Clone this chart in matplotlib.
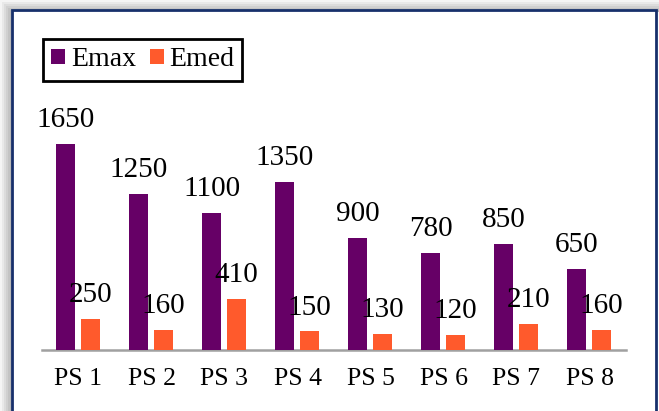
import numpy as np
import matplotlib
matplotlib.use("Agg")
from matplotlib import pyplot as plt
from matplotlib.patches import Rectangle

categories = ["PS 1", "PS 2", "PS 3", "PS 4", "PS 5", "PS 6", "PS 7", "PS 8"]
emax = [1650, 1250, 1100, 1350, 900, 780, 850, 650]
emed = [250, 160, 410, 150, 130, 120, 210, 160]

W, H = 659, 411
purple = "#660066"
orange = "#ff5a2c"

plt.rcParams['font.family'] = ['Liberation Serif', 'DejaVu Serif']

fig = plt.figure(figsize=(W / 100, H / 100), dpi=100)
fig.patch.set_facecolor("white")

def px(x, y, w, h):
    # pixel box measured from the top-left -> figure fraction
    return (x / W, 1 - (y + h) / H, w / W, h / H)

# soft grey shadow on the left and top, darker next to the frame
greys = np.linspace(0.96, 0.72, 6)
for i, g in enumerate(greys):
    fig.patches.append(Rectangle((2 * i / W, 0), 2 / W, 1 - 2 * i / H,
                                 transform=fig.transFigure, color=str(g),
                                 zorder=0, lw=0))
    fig.patches.append(Rectangle((2 * i / W, 1 - (2 * i + 2) / H), 1, 2 / H,
                                 transform=fig.transFigure, color=str(g),
                                 zorder=0, lw=0))
fig.patches.append(Rectangle((12 / W, -0.05), (656 - 12) / W, 1.05 - 10 / H,
                             transform=fig.transFigure, facecolor="white",
                             edgecolor="#17306b", lw=2, zorder=1))

ax = fig.add_axes(px(42, 125.4, 584, 224.6))
ax.set_zorder(2)
ax.patch.set_alpha(0)

x = np.arange(len(categories))
bw = 0.265
b1 = ax.bar(x - 0.178, emax, bw, color=purple, label="Emax", zorder=3)
b2 = ax.bar(x + 0.164, emed, bw, color=orange, label="Emed", zorder=3)

for bars, vals in ((b1, emax), (b2, emed)):
    for r, v in zip(bars, vals):
        ax.annotate(str(v), (r.get_x() + r.get_width() / 2, v),
                    xytext=(0, 12), textcoords="offset points",
                    ha="center", va="baseline", fontsize=21, color="black",
                    zorder=5)

ax.set_xlim(-0.5, 7.5)
ax.set_ylim(0, 1800)
ax.set_xticks(x)
ax.set_xticklabels(categories, fontsize=18.5)
ax.tick_params(axis="x", length=0, pad=13)
ax.set_yticks([])
for s in ("top", "right", "left"):
    ax.spines[s].set_visible(False)
ax.spines["bottom"].set_color("#a0a0a0")
ax.spines["bottom"].set_linewidth(1.8)

leg = fig.legend(handles=[b1, b2], loc="upper left",
                 bbox_to_anchor=(43 / W, 1 - 39 / H), ncol=2, fontsize=20,
                 frameon=True, fancybox=False, framealpha=1,
                 handlelength=0.5, handleheight=0.5, handletextpad=0.2,
                 columnspacing=0.5, borderpad=0.3, borderaxespad=0)
leg.get_frame().set_edgecolor("black")
leg.get_frame().set_linewidth(2)
leg.set_zorder(6)

fig.savefig("out.png", dpi=100)
